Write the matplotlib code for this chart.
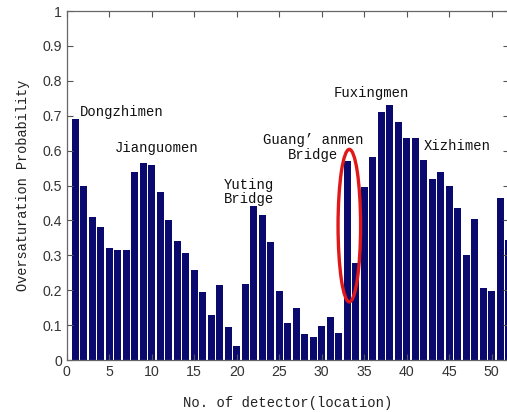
import numpy as np
import matplotlib
matplotlib.use("Agg")
import matplotlib.pyplot as plt
from matplotlib.patches import Ellipse

# detector index 1..52 and oversaturation probability
detectors = list(range(1, 53))
probability = [0.69, 0.50, 0.41, 0.38, 0.32, 0.315, 0.315, 0.54, 0.565, 0.56,
               0.48, 0.40, 0.34, 0.307, 0.258, 0.196, 0.129, 0.215, 0.094, 0.041,
               0.218, 0.44, 0.415, 0.338, 0.198, 0.105, 0.148, 0.074, 0.067, 0.098,
               0.124, 0.078, 0.57, 0.277, 0.497, 0.583, 0.711, 0.73, 0.683, 0.635,
               0.635, 0.573, 0.518, 0.538, 0.50, 0.435, 0.30, 0.403, 0.205, 0.198,
               0.463, 0.344]

# station labels: (text, x, y, horizontal alignment)
stations = [("Dongzhimen", 1.55, 0.71, "left"),
            ("Jianguomen", 5.7, 0.607, "left"),
            ("Yuting\nBridge", 18.5, 0.482, "left"),
            ("Guang’ anmen\nBridge", 28.95, 0.609, "center"),
            ("Fuxingmen", 35.85, 0.764, "center"),
            ("Xizhimen", 42.0, 0.614, "left")]

xticks = list(range(0, 51, 5))
yticks = [round(0.1 * i, 1) for i in range(11)]
ytick_labels = ["0", "0.1", "0.2", "0.3", "0.4", "0.5", "0.6", "0.7", "0.8", "0.9", "1"]

mono = "Liberation Mono"
sans = "Liberation Sans"

fig = plt.figure(figsize=(5.07, 4.12), dpi=100)
ax = fig.add_axes([66.7 / 507, 52 / 412, 442 / 507, 349 / 412])

ax.bar(detectors, probability, width=0.86, color="#0a0a6e", edgecolor="none")

ax.set_xlim(0, 52)
ax.set_ylim(0, 1)
ax.set_xticks(xticks)
ax.set_yticks(yticks)
ax.set_yticklabels(ytick_labels)
ax.tick_params(direction="in", length=4, width=0.8, top=True, right=True,
               colors="#555555", labelcolor="#333333", labelsize=10.2)
for lab in ax.get_xticklabels() + ax.get_yticklabels():
    lab.set_fontfamily(sans)
for s in ax.spines.values():
    s.set_color("#666666")
    s.set_linewidth(0.9)

ax.set_xlabel("No. of detector(location)", fontfamily=mono, fontsize=10,
              color="#222222", labelpad=12)
ax.set_ylabel("Oversaturation Probability", fontfamily=mono, fontsize=9.8,
              color="#222222", labelpad=9)

for text, x, y, ha in stations:
    ax.text(x, y, text, ha=ha, va="center", fontfamily=mono, fontsize=10,
            color="#111111", linespacing=1.05)

ax.add_patch(Ellipse((33.25, 0.385), 2.65, 0.437, fill=False,
                     edgecolor="#e01818", linewidth=2.4, clip_on=False))

fig.savefig("out.png", dpi=100)
